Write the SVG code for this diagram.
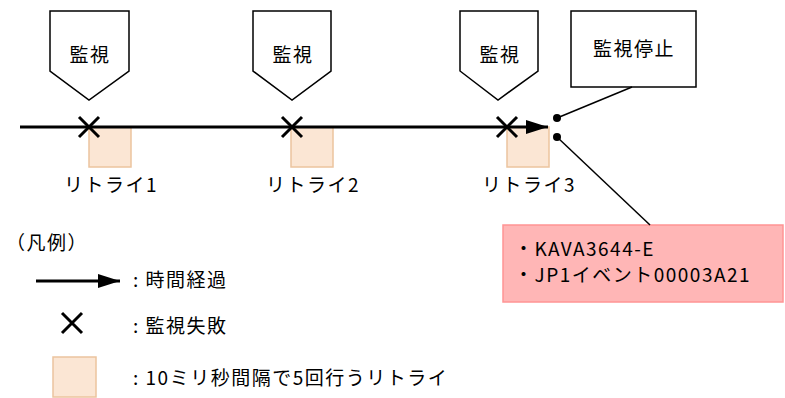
<svg xmlns="http://www.w3.org/2000/svg" width="785" height="398" viewBox="0 0 785 398">
<style>
text{font-family:"Noto Sans CJK JP","Noto Sans",sans-serif;font-size:19px;letter-spacing:1.5px;fill:#000}
.c{text-anchor:middle}
.shape{fill:#fff;stroke:#000;stroke-width:1.5}
.retry{fill:#fbe6d4;stroke:#ecc49e;stroke-width:1.5}
.x{stroke:#000;stroke-width:3;fill:none}
.ln{stroke:#000;stroke-width:1.5;fill:none}
</style>
<defs>
<marker id="ah" markerWidth="22" markerHeight="14" refX="22" refY="7" orient="auto" markerUnits="userSpaceOnUse">
<path d="M0,0 L22,7 L0,14 Z" fill="#000"/>
</marker>
<g id="xm"><path class="x" d="M-10,-10 L10,10 M10,-10 L-10,10"/></g>
</defs>
<g id="mon1"><path class="shape" d="M50,11 H129 V71 L89,100 L50,71 Z"/><text class="c" x="90" y="62">監視</text></g>
<g id="mon2"><path class="shape" d="M253,11 H331 V71 L292,100 L253,71 Z"/><text class="c" x="293" y="62">監視</text></g>
<g id="mon3"><path class="shape" d="M460,11 H538 V71 L498,100 L460,71 Z"/><text class="c" x="500" y="62">監視</text></g>
<g id="stop"><rect class="shape" x="571" y="11" width="125" height="76"/><text class="c" x="634" y="56">監視停止</text></g>
<g id="retry1"><rect class="retry" x="89" y="127" width="42" height="40"/><text class="c" x="111" y="192">リトライ1</text></g>
<g id="retry2"><rect class="retry" x="291" y="127" width="42" height="40"/><text class="c" x="313" y="192">リトライ2</text></g>
<g id="retry3"><rect class="retry" x="507" y="127" width="42" height="40"/><text class="c" x="529" y="192">リトライ3</text></g>
<g id="msg"><rect x="503" y="225" width="280" height="77" fill="#ffb6b6" stroke="#ff9494" stroke-width="1.5"/>
<text x="514" y="256">・KAVA3644-E</text><text x="514" y="282">・JP1イベント00003A21</text></g>
<g id="connectors">
<line x1="20" y1="127" x2="548" y2="127" stroke="#000" stroke-width="3" marker-end="url(#ah)"/>
<line class="ln" x1="557" y1="118" x2="632" y2="87"/>
<line class="ln" x1="557" y1="137" x2="650" y2="225"/>
<circle cx="557" cy="118" r="4" fill="#000"/>
<circle cx="557" cy="137" r="4" fill="#000"/>
</g>
<g id="fails">
<use href="#xm" x="89" y="127"/>
<use href="#xm" x="292" y="127"/>
<use href="#xm" x="507" y="127"/>
</g>
<g id="legend">
<text x="6" y="250">（凡例）</text>
<line x1="36" y1="281" x2="120" y2="281" stroke="#000" stroke-width="3" marker-end="url(#ah)"/>
<text x="133" y="287">: 時間経過</text>
<use href="#xm" x="72" y="323"/>
<text x="133" y="333">: 監視失敗</text>
<rect class="retry" x="53" y="357" width="43" height="40"/>
<text x="133" y="385">: 10ミリ秒間隔で5回行うリトライ</text>
</g>
</svg>
